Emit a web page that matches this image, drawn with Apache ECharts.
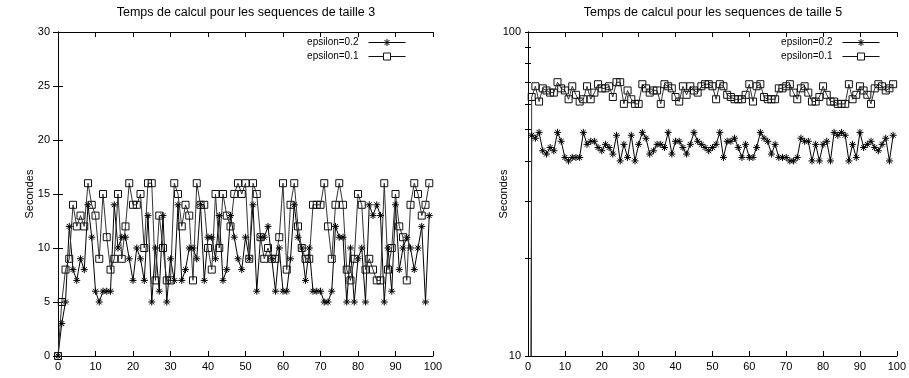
<!DOCTYPE html>
<html>
<head>
<meta charset="utf-8">
<script src="https://cdn.jsdelivr.net/npm/echarts@6/dist/echarts.min.js"></script>
<style>html,body{margin:0;padding:0;background:#fff}#c{width:909px;height:378px}</style>
</head>
<body>
<div id="c"></div>
<script>
// run index (x values)
const runs = Array.from({length: 100}, (_, i) => i);

// Left panel: sequences of size 3 (seconds)
const left_eps02 = [0,3,5,12,8,7,9,8,14,11, 6,5,6,6,6,14,10,11,11,9, 7,10,9,7,13,5,10,6,13,5,
  9,7,14,7,8,10,10,9,14,7, 11,11,9,13,7,8,13,11,9,8, 11,9,14,6,11,11,12,9,6,10,
  6,6,9,14,11,10,7,10,6,6, 6,5,5,6,12,11,11,5,10,5, 9,10,5,14,13,14,13,5,10,6,
  14,8,10,11,10,8,10,12,5,13];
const left_eps01 = [0,5,8,9,14,12,13,12,16,14, 13,9,15,11,8,9,15,9,12,16, 14,14,15,10,16,16,7,13,10,7,
  7,16,15,12,14,13,7,16,14,14, 10,8,15,10,15,13,12,15,16,15, 16,9,16,15,11,9,10,9,9,11,
  16,8,14,16,12,10,9,9,14,14, 14,16,12,9,14,16,14,8,7,9, 15,14,8,9,8,7,7,16,8,10,
  15,12,11,7,14,16,15,13,14,16];

// Right panel: sequences of size 5 (seconds, log scale); first run is ~0 (off scale)
const right_eps02 = [0.001,48,47,49,43,42,44,43,49,46, 41,40,41,41,41,49,45,46,46,44, 43,45,44,42,48,40,45,41,48,40,
  45,49,47,42,43,45,45,44,49,42, 46,46,44,42,45,49,46,45,44,43, 44,45,49,41,46,46,47,44,41,45,
  41,41,44,49,47,46,42,45,41,41, 41,40,40,41,47,46,46,40,45,40, 45,46,40,49,48,49,48,40,45,41,
  49,44,45,46,44,43,45,47,40,48];
const right_eps01 = [0.001,63,68,61,67,66,65,65,70,67, 66,62,68,64,61,62,68,62,65,69, 67,67,68,63,70,70,60,66,62,60,
  60,69,67,65,66,66,60,69,68,67, 63,61,68,64,68,66,65,68,69,69, 68,62,69,68,64,63,62,62,62,64,
  69,61,68,69,63,62,62,62,67,67, 68,69,65,62,67,68,65,61,61,63, 68,64,61,61,60,60,60,69,62,64,
  68,66,64,60,67,69,68,66,67,69];

const seriesNames = ['epsilon=0.2', 'epsilon=0.1'];
const titles = ['Temps de calcul pour les sequences de taille 3', 'Temps de calcul pour les sequences de taille 5'];
const yName = 'Secondes';
const logTicks = [10,20,30,40,50,60,70,80,90,100];

const FONT = '"Liberation Sans", Arial, Helvetica, sans-serif';
const STAR = 'path://M5,0L5,10M0,5L10,5M1.5,1.5L8.5,8.5M8.5,1.5L1.5,8.5';
const BOX = 'path://M0,0L10,0L10,10L0,10Z';
// legend samples: line with the point symbol in its middle (37 x 7 box)
const STAR_KEY = 'path://M0,3.5L37,3.5M18.5,0L18.5,7M15,3.5L22,3.5M16,1L21,6M21,1L16,6';
const BOX_KEY = 'path://M0,3.5L15,3.5M22,3.5L37,3.5M15,0L22,0L22,7L15,7Z';

const chart = echarts.init(document.getElementById('c'), null, {renderer: 'canvas'});

function xAx(grid, pos) {
  return {
    type: 'value', gridIndex: grid, position: pos, min: 0, max: 100, interval: 10,
    axisLine: {show: true, onZero: false, lineStyle: {color: '#000', width: 1}},
    axisTick: {show: true, inside: true, length: 5, lineStyle: {color: '#000'}},
    axisLabel: {show: pos === 'bottom', color: '#000', fontSize: 11, fontFamily: FONT, margin: 5},
    splitLine: {show: false}
  };
}

function mk(name, data, yIdx, sym, color, mcolor) {
  return {
    name: name, type: 'line', xAxisIndex: yIdx < 2 ? 0 : 2, yAxisIndex: yIdx,
    data: runs.map((r, i) => [r, data[i]]),
    symbol: sym, symbolSize: 7,
    lineStyle: {color: color, width: 1},
    itemStyle: {color: 'none', borderColor: mcolor, borderWidth: 1},
    emphasis: {disabled: true},
    clip: true, animation: false
  };
}

const legendBase = {
  orient: 'vertical', align: 'right', itemWidth: 37, itemHeight: 7, itemGap: 1,
  top: 36, padding: 0,
  data: [{name: seriesNames[0], icon: STAR_KEY}, {name: seriesNames[1], icon: BOX_KEY}],
  itemStyle: {color: 'none', borderWidth: 1},
  textStyle: {color: '#000', fontSize: 10, fontFamily: FONT, lineHeight: 13, padding: [0, 5, 0, 0]}
};

chart.setOption({
  animation: false,
  backgroundColor: '#fff',
  grid: [
    {left: 58, top: 32, width: 375, height: 324},
    {left: 528, top: 32, width: 369, height: 324}
  ],
  xAxis: [xAx(0, 'bottom'), xAx(0, 'top'), xAx(1, 'bottom'), xAx(1, 'top')],
  yAxis: [
    {type: 'value', gridIndex: 0, position: 'left', min: 0, max: 30, interval: 5,
     name: yName, nameLocation: 'middle', nameRotate: 90, nameGap: 23, nameMoveOverlap: false,
     nameTextStyle: {color: '#000', fontSize: 11, fontFamily: FONT},
     axisLine: {show: true, lineStyle: {color: '#000'}},
     axisTick: {show: true, inside: true, length: 5, lineStyle: {color: '#000'}},
     axisLabel: {color: '#000', fontSize: 11, fontFamily: FONT, margin: 8},
     splitLine: {show: false}},
    {type: 'value', gridIndex: 0, position: 'right', min: 0, max: 30, interval: 5,
     axisLine: {show: true, lineStyle: {color: '#000'}},
     axisTick: {show: true, inside: true, length: 5, lineStyle: {color: '#000'}},
     axisLabel: {show: false}, splitLine: {show: false}},
    {type: 'log', logBase: 10, gridIndex: 1, position: 'left', min: 10, max: 100,
     name: yName, nameLocation: 'middle', nameRotate: 90, nameGap: 19, nameMoveOverlap: false,
     nameTextStyle: {color: '#000', fontSize: 11, fontFamily: FONT},
     axisLine: {show: true, lineStyle: {color: '#000'}},
     axisTick: {show: true, inside: true, length: 3, customValues: logTicks, lineStyle: {color: '#000'}},
     axisLabel: {color: '#000', fontSize: 11, fontFamily: FONT, margin: 7},
     splitLine: {show: false}},
    {type: 'log', logBase: 10, gridIndex: 1, position: 'right', min: 10, max: 100,
     axisLine: {show: true, lineStyle: {color: '#000'}},
     axisTick: {show: true, inside: true, length: 3, customValues: logTicks, lineStyle: {color: '#000'}},
     axisLabel: {show: false}, splitLine: {show: false}}
  ],
  legend: [
    Object.assign({}, legendBase, {right: 501}),
    Object.assign({}, legendBase, {right: 27})
  ],
  graphic: [
    {type: 'text', x: 246, y: 13, style: {text: titles[0], align: 'center', verticalAlign: 'middle', font: '12.5px ' + FONT, fill: '#000'}},
    {type: 'text', x: 713, y: 13, style: {text: titles[1], align: 'center', verticalAlign: 'middle', font: '12.5px ' + FONT, fill: '#000'}}
  ],
  series: [
    mk(seriesNames[0], left_eps02, 0, STAR, '#000', '#000'),
    mk(seriesNames[1], left_eps01, 0, BOX, '#333', '#111'),
    mk(seriesNames[0], right_eps02, 2, STAR, '#000', '#000'),
    mk(seriesNames[1], right_eps01, 2, BOX, '#333', '#111')
  ]
});
</script>
</body>
</html>
